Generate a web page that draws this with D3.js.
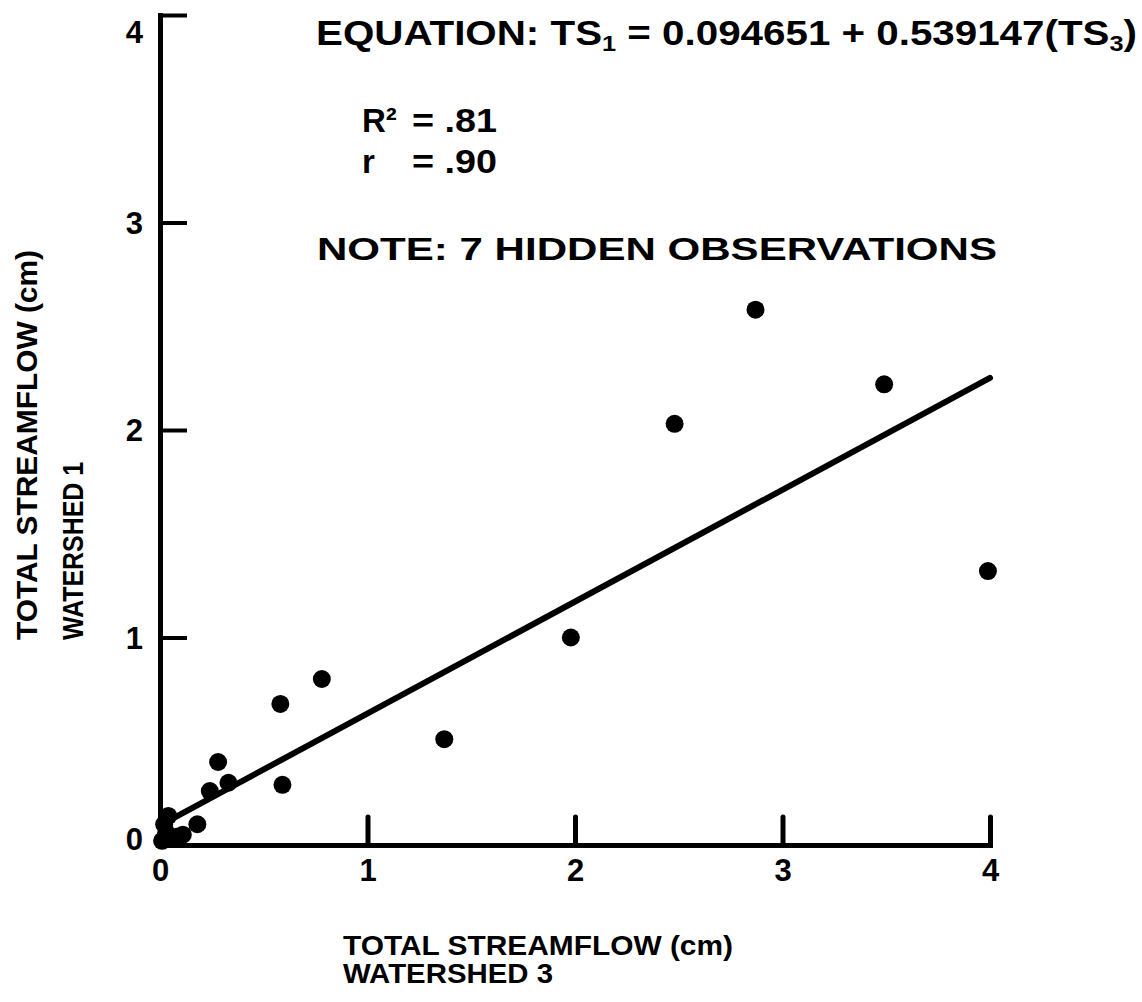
<!DOCTYPE html>
<html>
<head>
<meta charset="utf-8">
<script src="https://cdn.jsdelivr.net/npm/d3@7"></script>
<style>
  html, body { margin: 0; padding: 0; background: #fff; }
  svg { display: block; }
  text { font-family: "Liberation Sans", Arial, Helvetica, sans-serif; font-weight: bold; fill: #000; }
</style>
</head>
<body>
<svg id="chart" width="1142" height="1002"></svg>
<script>
// ---- data ----
const ws3 = [2.87, 3.49, 2.48, 3.99, 1.98, 1.37, 0.78, 0.58, 0.59, 0.28, 0.33, 0.24, 0.18, 0.11, 0.04, 0.03, 0.02, 0.01, 0.08];
const ws1 = [2.58, 2.22, 2.03, 1.32, 1.00, 0.51, 0.80, 0.68, 0.29, 0.40, 0.30, 0.26, 0.10, 0.05, 0.14, 0.06, 0.10, 0.02, 0.04];
const xTicks = [0, 1, 2, 3, 4];
const yTicks = [0, 1, 2, 3, 4];
const intercept = 0.094651;
const slope = 0.539147;
const fitRange = [0, 4];
const xTitle = ["TOTAL STREAMFLOW (cm)", "WATERSHED 3"];
const yTitle = ["TOTAL STREAMFLOW (cm)", "WATERSHED 1"];
const eqParts = [["EQUATION: TS", 0], ["1", 1], [" = 0.094651 + 0.539147(TS", 0], ["3", 1], [")", 0]];
const statLines = [["R\u00B2", "= .81"], ["r", "= .90"]];
const note = "NOTE: 7 HIDDEN OBSERVATIONS";

// ---- layout ----
const svg = d3.select("#chart");
svg.append("rect").attr("width", 1142).attr("height", 1002).attr("fill", "#fff");

const x = d3.scaleLinear().domain([0, 4]).range([160, 990]);
const y = d3.scaleLinear().domain([0, 4]).range([845, 15]);

// y axis
const yAxis = svg.append("g").attr("transform", `translate(${x(0)},0)`)
  .call(d3.axisLeft(y).tickValues(yTicks).tickSize(-27).tickSizeOuter(0).tickPadding(17).tickFormat(d3.format("d")));
yAxis.select(".domain").attr("stroke", "#000").attr("stroke-width", 5).attr("stroke-linecap", "square");
yAxis.selectAll(".tick line").attr("stroke", "#000").attr("stroke-width", 4);
yAxis.selectAll(".tick text").attr("font-size", 31).attr("font-family", null).attr("font-weight", null)
  .attr("dy", d => d === 4 ? "0.9em" : (d === 0 ? "0.15em" : "0.35em"));

// x axis
const xAxis = svg.append("g").attr("transform", `translate(0,${y(0)})`)
  .call(d3.axisBottom(x).tickValues(xTicks).tickSize(-28).tickSizeOuter(0).tickPadding(10).tickFormat(d3.format("d")));
xAxis.select(".domain").attr("stroke", "#000").attr("stroke-width", 5).attr("stroke-linecap", "square");
xAxis.selectAll(".tick line").attr("stroke", "#000").attr("stroke-width", 5).attr("stroke-linecap", "round");
xAxis.selectAll(".tick text").attr("font-size", 31).attr("font-family", null).attr("font-weight", null).attr("dy", "0.85em");

// regression line
const line = d3.line().x(d => x(d)).y(d => y(intercept + slope * d));
svg.append("path").datum(fitRange).attr("d", line)
  .attr("fill", "none").attr("stroke", "#000").attr("stroke-width", 6).attr("stroke-linecap", "round");

// points
svg.append("g").selectAll("circle").data(d3.range(ws3.length)).join("circle")
  .attr("cx", i => x(ws3[i])).attr("cy", i => y(ws1[i])).attr("r", 9).attr("fill", "#000");

// equation
const eq = svg.append("text").attr("x", 316).attr("y", 45).attr("font-size", 35)
  .attr("textLength", 821).attr("lengthAdjust", "spacingAndGlyphs");
eqParts.forEach(([t, sub], i) => {
  const ts = eq.append("tspan").text(t);
  if (sub) ts.attr("font-size", 22).attr("dy", 6);
  else if (i > 0 && eqParts[i - 1][1]) ts.attr("dy", -6);
});

// stats
statLines.forEach(([a, b], i) => {
  svg.append("text").attr("x", 362).attr("y", 132 + i * 41).attr("font-size", 33).text(a);
  svg.append("text").attr("x", 412).attr("y", 132 + i * 41).attr("font-size", 33)
    .attr("textLength", 85).attr("lengthAdjust", "spacingAndGlyphs").text(b);
});

// note
svg.append("text").attr("x", 317).attr("y", 260).attr("font-size", 32)
  .attr("textLength", 680).attr("lengthAdjust", "spacingAndGlyphs").text(note);

// x title
const xTitleLen = [390, 210];
xTitle.forEach((t, i) => {
  svg.append("text").attr("x", 343).attr("y", 955 + i * 28).attr("font-size", 28)
    .attr("textLength", xTitleLen[i]).attr("lengthAdjust", "spacingAndGlyphs").text(t);
});

// y title
const yTitleLen = [390, 178];
yTitle.forEach((t, i) => {
  svg.append("text").attr("transform", `translate(${37 + i * 46},640) rotate(-90)`).attr("font-size", 29)
    .attr("textLength", yTitleLen[i]).attr("lengthAdjust", "spacingAndGlyphs").text(t);
});
</script>
</body>
</html>
